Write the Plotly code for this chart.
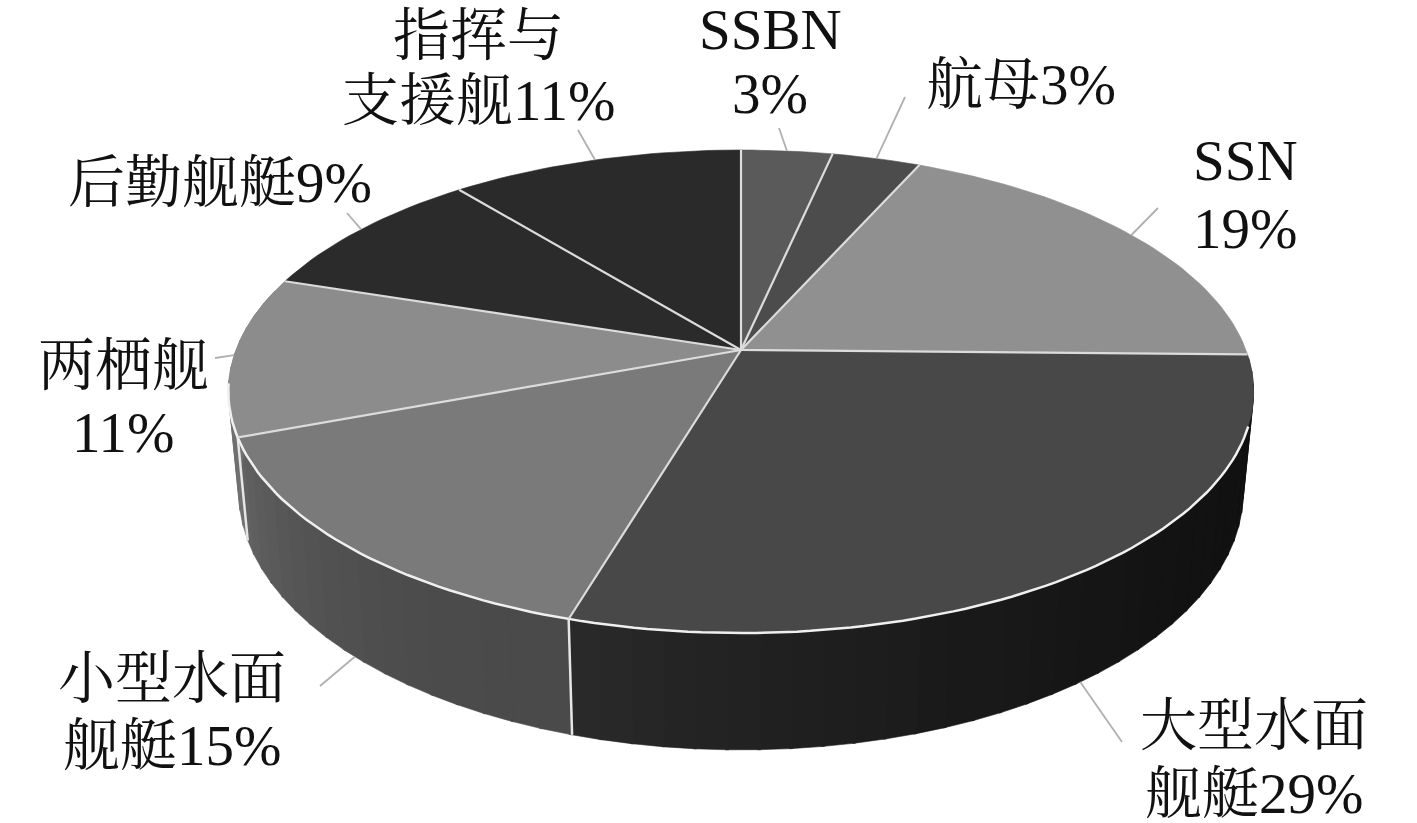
import math
import plotly.graph_objects as go

# ---- data ----
names = ["SSBN|", "航母", "SSN|", "大型水面|舰艇", "小型水面|舰艇", "两栖舰|", "后勤舰艇", "指挥与|支援舰"]
shares = [3.4, 3.3, 18.6, 29.3, 14.7, 10.7, 9.1, 10.9]
top_grey = [90, 76, 144, 72, 122, 140, 43, 42]
wall_grey_start = [60, 60, 16, 16, 74, 112, 40, 40]
wall_grey_end = [60, 60, 16, 42, 100, 112, 40, 40]

# ---- layout of the picture ----
W, H = 1417, 823
CX, CY_TOP, CY_BOT = 741, 350, 447
A, B, K = 505, 234.4, 0.172
SX_BOT, SY_BOT = 0.98, 1.07
FONT = "Liberation Serif, Noto Serif CJK SC, Noto Sans CJK SC"
FS = 57
# per label: centre of each line of text
label_lines = [
    [(770, 29), (770, 93)],
    [(1021, 84)],
    [(1245, 160), (1245, 228)],
    [(1254, 725), (1254, 793)],
    [(172, 678), (172, 745)],
    [(123, 365), (123, 432)],
    [(220, 182)],
    [(478, 35), (478, 100)],
]
leader_tip = [(779, 128), (905, 97), (1158, 208), (1122, 742), (320, 686), (215, 358), (347, 213), (578, 130)]
leader_on_bottom = [False, False, False, True, True, False, False, False]


def project(theta_deg, bottom=False):
    t = math.radians(theta_deg)
    u, v = math.sin(t), math.cos(t)
    w = 1 + K * v
    if bottom:
        return CX + SX_BOT * A * u / w, CY_BOT - SY_BOT * B * v / w
    return CX + A * u / w, CY_TOP - B * v / w


def grey(g):
    g = int(round(g))
    return f"rgb({g},{g},{g})"


def poly(fig, pts, color, close=True, width=0, line_color=None):
    xs = [p[0] for p in pts]
    ys = [p[1] for p in pts]
    if close:
        xs.append(xs[0])
        ys.append(ys[0])
        fig.add_trace(go.Scatter(x=xs, y=ys, mode="lines", fill="toself", fillcolor=color,
                                 line=dict(width=0.6, color=color), hoverinfo="skip", showlegend=False))
    else:
        fig.add_trace(go.Scatter(x=xs, y=ys, mode="lines", line=dict(width=width, color=line_color),
                                 hoverinfo="skip", showlegend=False))


total = sum(shares)
bounds = [0.0]
for s in shares:
    bounds.append(bounds[-1] + s / total * 360)

fig = go.Figure()

# side wall
RIM_FROM, RIM_TO = 108, 262
for i in range(len(shares)):
    a0, a1 = bounds[i], bounds[i + 1]
    lo, hi = max(a0, 92), min(a1, 285)
    if hi <= lo:
        continue
    n = max(2, int((hi - lo) / 3))
    for j in range(n):
        t0 = lo + (hi - lo) * j / n
        t1 = lo + (hi - lo) * (j + 1) / n + 0.3
        f = ((j + 0.5) / n) ** 2.2
        g = wall_grey_start[i] + (wall_grey_end[i] - wall_grey_start[i]) * f
        poly(fig, [project(t0), project(t1), project(t1, True), project(t0, True)], grey(g))

# wall separators
for i in range(1, len(bounds) - 1):
    if RIM_FROM < bounds[i] < RIM_TO:
        poly(fig, [project(bounds[i]), project(bounds[i], True)], None, close=False, width=2.5, line_color="#e6e6e6")

# top face
for i in range(len(shares)):
    a0, a1 = bounds[i], bounds[i + 1]
    n = max(4, int((a1 - a0) / 1.5))
    pts = [(CX, CY_TOP)] + [project(a0 + (a1 - a0) * j / n) for j in range(n + 1)]
    poly(fig, pts, grey(top_grey[i]))

# rim highlight and slice separators
poly(fig, [project(RIM_FROM + (RIM_TO - RIM_FROM) * j / 120) for j in range(121)], None,
     close=False, width=2.5, line_color="#f0f0f0")
for b in bounds[:-1]:
    poly(fig, [(CX, CY_TOP), project(b)], None, close=False, width=2.2, line_color="#dcdcdc")

# leader lines, from each slice's mid angle to the label
for i, tip in enumerate(leader_tip):
    mid = (bounds[i] + bounds[i + 1]) / 2
    poly(fig, [project(mid, leader_on_bottom[i]), tip], None, close=False, width=1.8, line_color="#b0b0b0")

# labels
annotations = []
for i, name in enumerate(names):
    parts = name.split("|")
    parts[-1] += f"{round(shares[i])}%"
    for text, (x, y) in zip(parts, label_lines[i]):
        annotations.append(dict(x=x, y=y, xref="x", yref="y", text=text, showarrow=False,
                                xanchor="center", yanchor="middle",
                                font=dict(family=FONT, size=FS, color="#111111")))

fig.update_layout(
    width=W, height=H, autosize=False, margin=dict(l=0, r=0, t=0, b=0),
    paper_bgcolor="white", plot_bgcolor="white", showlegend=False,
    xaxis=dict(range=[0, W], visible=False, fixedrange=True),
    yaxis=dict(range=[H, 0], visible=False, fixedrange=True),
    annotations=annotations,
)
fig.write_html("out.html", config={"displayModeBar": False},
               post_script="document.body.style.margin='0';document.body.style.overflow='hidden';")
